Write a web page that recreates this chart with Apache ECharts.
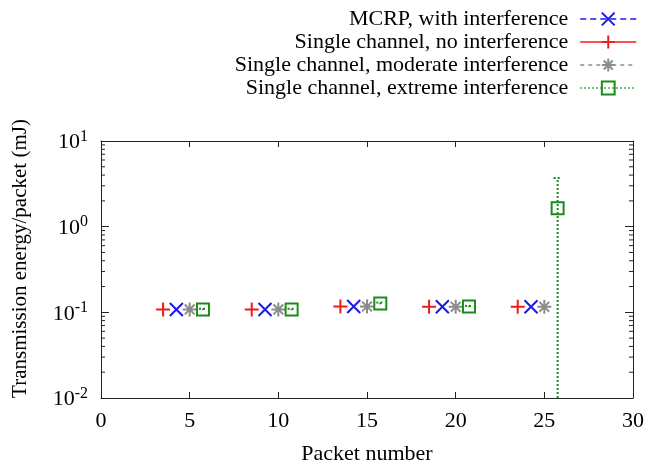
<!DOCTYPE html>
<html>
<head>
<meta charset="utf-8">
<script src="https://cdn.jsdelivr.net/npm/echarts@6/dist/echarts.min.js"></script>
<style>
  html, body { margin: 0; padding: 0; background: #fff; }
  #chart { width: 661px; height: 468px; }
</style>
</head>
<body>
<div id="chart"></div>
<script>
// packet positions (groups at 5,10,..,25, each series shifted a bit)
var redX   = [3.5, 8.5, 13.5, 18.5, 23.5];
var blueX  = [4.25, 9.25, 14.25, 19.25, 24.25];
var grayX  = [5, 10, 15, 20, 25];
var greenX = [5.75, 10.75, 15.75, 20.75, 25.75];

// energy per packet (mJ)
var redY   = [0.108, 0.108, 0.117, 0.116, 0.116];
var blueY  = [0.108, 0.108, 0.117, 0.116, 0.116];
var grayY  = [0.108, 0.108, 0.117, 0.116, 0.116];
var greenY = [0.108, 0.108, 0.127, 0.117, 1.64];
var greenLow  = [0.106, 0.106, 0.124, 0.115, 0.01];
var greenHigh = [0.110, 0.110, 0.130, 0.119, 3.7];

var xTicks = [0, 5, 10, 15, 20, 25, 30];
var decades = [0.01, 0.1, 1];

var names = [
    'MCRP, with interference',
    'Single channel, no interference',
    'Single channel, moderate interference',
    'Single channel, extreme interference'
];
var colors = ['#1a1ae6', '#ee1c1c', '#8c8c8c', '#1a8c1a'];

var font = 'Liberation Serif, Times New Roman, serif';
var axisColor = '#222';

function pairs(xs, ys) {
    var out = [];
    for (var i = 0; i < xs.length; i++) {
        out.push([xs[i], ys[i]]);
    }
    return out;
}

// minor ticks of the log axis (2..9 in each decade)
var minorTicks = [];
for (var d = 0; d < decades.length; d++) {
    for (var m = 2; m <= 9; m++) {
        minorTicks.push([0, decades[d] * m]);
    }
}

var plusPath = 'path://M0,5 L10,5 M5,0 L5,10';
var crossPath = 'path://M0,0 L10,10 M10,0 L0,10';
var starPath = 'path://M0,5 L10,5 M5,0 L5,10 M1.5,1.5 L8.5,8.5 M8.5,1.5 L1.5,8.5';

var symbols = [crossPath, plusPath, starPath, 'rect'];
var sizes = [13, 14, 14, 12];
var dashes = [[6, 4], 'solid', [4, 4], [1.5, 2.5]];
var allX = [blueX, redX, grayX, greenX];
var allY = [blueY, redY, grayY, greenY];

var myChart = echarts.init(document.getElementById('chart'));

var series = [];
var legendData = [];
for (var s = 0; s < names.length; s++) {
    series.push({
        name: names[s],
        type: 'line',
        data: pairs(allX[s], allY[s]),
        symbol: symbols[s],
        symbolSize: sizes[s],
        showAllSymbol: true,
        lineStyle: { width: 0, opacity: 0 },
        itemStyle: { color: 'transparent', borderColor: colors[s], borderWidth: 2 },
        z: 5
    });
    legendData.push({
        name: names[s],
        lineStyle: { color: colors[s], width: 1.5, type: dashes[s], opacity: 1 },
        itemStyle: { color: 'transparent', borderColor: colors[s], borderWidth: 2, opacity: 1 }
    });
}

// error bars of the extreme interference series
var errData = [];
for (var i = 0; i < greenX.length; i++) {
    errData.push([greenX[i], greenLow[i], greenHigh[i]]);
}
series.push({
    type: 'custom',
    data: errData,
    encode: { x: 0, y: [1, 2] },
    z: 4,
    renderItem: function (params, api) {
        var lo = api.coord([api.value(0), api.value(1)]);
        var hi = api.coord([api.value(0), api.value(2)]);
        var st = { stroke: colors[3], lineWidth: 2, lineDash: [2, 2] };
        return {
            type: 'group',
            children: [
                { type: 'line', shape: { x1: lo[0], y1: lo[1], x2: hi[0], y2: hi[1] }, style: st },
                { type: 'line', shape: { x1: hi[0] - 4, y1: hi[1], x2: hi[0] + 4, y2: hi[1] }, style: st }
            ]
        };
    }
});

// minor ticks on left and right borders
series.push({
    type: 'custom',
    data: minorTicks,
    encode: { x: 0, y: 1 },
    silent: true,
    z: 3,
    renderItem: function (params, api) {
        var cs = params.coordSys;
        var y = api.coord([0, api.value(1)])[1];
        var st = { stroke: axisColor, lineWidth: 1 };
        return {
            type: 'group',
            children: [
                { type: 'line', shape: { x1: cs.x, y1: y, x2: cs.x + 4, y2: y }, style: st },
                { type: 'line', shape: { x1: cs.x + cs.width, y1: y, x2: cs.x + cs.width - 4, y2: y }, style: st }
            ]
        };
    }
});

var xAxisBase = {
    type: 'value',
    min: xTicks[0],
    max: xTicks[xTicks.length - 1],
    interval: 5,
    axisLine: { show: true, onZero: false, lineStyle: { color: axisColor, width: 1 } },
    axisTick: { show: true, inside: true, length: 6, lineStyle: { color: axisColor } },
    splitLine: { show: false }
};
var yAxisBase = {
    type: 'log',
    logBase: 10,
    min: 0.01,
    max: 10,
    axisLine: { show: true, onZero: false, lineStyle: { color: axisColor, width: 1 } },
    axisTick: { show: true, inside: true, length: 8, lineStyle: { color: axisColor } },
    splitLine: { show: false }
};

var option = {
    animation: false,
    backgroundColor: '#fff',
    legend: {
        data: legendData,
        orient: 'vertical',
        right: 24,
        top: 8,
        padding: 0,
        align: 'right',
        itemWidth: 56,
        itemHeight: 16,
        itemGap: 1,
        selectedMode: false,
        textStyle: { fontFamily: font, fontSize: 22, color: '#000', lineHeight: 22, padding: [0, 7, 0, 0] }
    },
    grid: { left: 101, right: 28, top: 141, bottom: 70, outerBoundsMode: 'none' },
    xAxis: [
        echarts.util.merge({
            position: 'bottom',
            name: 'Packet number',
            nameLocation: 'middle',
            nameGap: 45,
            nameTextStyle: { fontFamily: font, fontSize: 22, color: '#000' },
            axisLabel: { fontFamily: font, fontSize: 22, color: '#000', margin: 12 }
        }, xAxisBase, true),
        echarts.util.merge({
            position: 'top',
            axisLabel: { show: false }
        }, xAxisBase, true)
    ],
    yAxis: [
        echarts.util.merge({
            position: 'left',
            name: 'Transmission energy/packet (mJ)',
            nameLocation: 'middle',
            nameGap: 70,
            nameTextStyle: { fontFamily: font, fontSize: 21, color: '#000', padding: [0, 0, 0, 22] },
            axisLabel: {
                margin: 13,
                formatter: function (v) {
                    return '{b|10}{s|' + Math.round(Math.log10(v)) + '}';
                },
                rich: {
                    b: { fontFamily: font, fontSize: 22, color: '#000', verticalAlign: 'bottom', lineHeight: 24 },
                    s: { fontFamily: font, fontSize: 16, color: '#000', verticalAlign: 'bottom', padding: [0, 0, 9, 0] }
                }
            }
        }, yAxisBase, true),
        echarts.util.merge({
            position: 'right',
            axisLabel: { show: false }
        }, yAxisBase, true)
    ],
    series: series
};

myChart.setOption(option);
</script>
</body>
</html>
